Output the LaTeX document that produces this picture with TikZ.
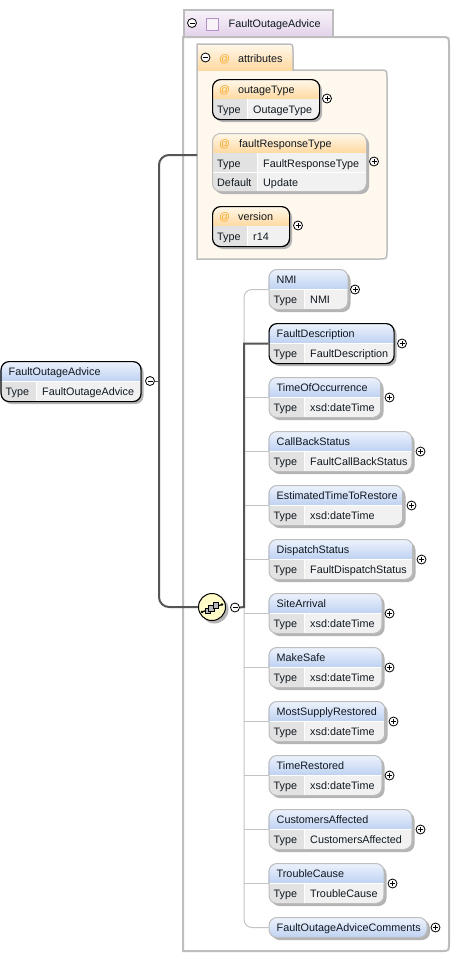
\documentclass[tikz,border=0pt]{standalone}
\usepackage{fontspec}
\setmainfont{Liberation Sans}
\usetikzlibrary{calc}
\definecolor{hdtop}{HTML}{EEF3FC}
\definecolor{hdbot}{HTML}{BFD2F2}
\definecolor{attop}{HTML}{FFF8EC}
\definecolor{atbot}{HTML}{FFD9A0}
\definecolor{grptop}{HTML}{F8F3F9}
\definecolor{grpbot}{HTML}{E2D0EA}
\definecolor{cellk}{HTML}{E2E2E2}
\definecolor{cellv}{HTML}{F1F1F1}
\definecolor{shad}{HTML}{B4B4B4}
\definecolor{frame}{HTML}{BDBDBD}
\definecolor{wirec}{HTML}{C4C4C4}
\definecolor{buscol}{HTML}{555555}
\definecolor{atcol}{HTML}{F5A623}
\definecolor{panel}{HTML}{FFF8EE}
\definecolor{txt}{HTML}{101820}
\definecolor{icpurple}{HTML}{B58FC8}
\tikzset{
  x=1pt,y=-1pt,
  every node/.style={font=\fontsize{10.8}{12}\selectfont,text=txt},
  lbl/.style={anchor=base west,inner sep=0pt},
  elemfr/.style={draw=frame,line width=1pt,rounded corners=8pt,inner sep=0pt,anchor=north west},
  keyfr/.style={draw=black,line width=1.2pt,rounded corners=8pt,inner sep=0pt,anchor=north west},
  btnnode/.style={circle,draw=black,fill=white,line width=0.8pt,minimum size=9pt,inner sep=0pt},
  wire/.style={draw=wirec,line width=1pt},
  buswire/.style={draw=buscol,line width=2pt},
  sh/.style={fill=shad,rounded corners=8pt},
}
% id, x, y, w, col x, title, type, frame style
\newcommand{\elembox}[8]{%
  \fill[sh] (#2+3,#3+3) rectangle (#2+#4+3,#3+43);
  \begin{scope}
    \clip[rounded corners=8pt] (#2,#3) rectangle (#2+#4,#3+40);
    \shade[top color=hdtop,bottom color=hdbot] (#2,#3) rectangle (#2+#4,#3+20);
    \fill[cellk] (#2,#3+20) rectangle (#5,#3+40);
    \fill[cellv] (#5,#3+20) rectangle (#2+#4,#3+40);
    \draw[white,line width=0.8pt] (#5,#3+20) -- (#5,#3+40);
    \draw[white,line width=0.8pt] (#2,#3+20) -- (#2+#4,#3+20);
  \end{scope}
  \node[#8,minimum width=#4pt,minimum height=40pt] (#1) at (#2,#3) {};
  \node[lbl] (#1-t) at (#2+8,#3+14.5) {#6};
  \node[lbl] (#1-k) at (#2+5,#3+34.5) {Type};
  \node[lbl] (#1-v) at (#5+6,#3+34.5) {#7};
}
\newcommand{\attrbox}[8]{%
  \fill[sh] (#2+3,#3+3) rectangle (#2+#4+3,#3+43);
  \begin{scope}
    \clip[rounded corners=8pt] (#2,#3) rectangle (#2+#4,#3+40);
    \shade[top color=attop,bottom color=atbot] (#2,#3) rectangle (#2+#4,#3+20);
    \fill[cellk] (#2,#3+20) rectangle (#5,#3+40);
    \fill[cellv] (#5,#3+20) rectangle (#2+#4,#3+40);
    \draw[white,line width=0.8pt] (#5,#3+20) -- (#5,#3+40);
  \end{scope}
  \node[#8,minimum width=#4pt,minimum height=40pt] (#1) at (#2,#3) {};
  \node[lbl,text=atcol] (#1-a) at (#2+7,#3+14.5) {@};
  \node[lbl] (#1-t) at (#2+26,#3+14.5) {#6};
  \node[lbl] (#1-k) at (#2+5,#3+34.5) {Type};
  \node[lbl] (#1-v) at (#5+6,#3+34.5) {#7};
}
\newcommand{\btn}[4]{%
  \node[btnnode] (#1) at (#2,#3) {};
  \draw[black,line width=0.8pt] ($(#1)+(-2.5,0)$) -- ($(#1)+(2.5,0)$);
  \if#4p\draw[black,line width=0.8pt] ($(#1)+(0,-2.5)$) -- ($(#1)+(0,2.5)$);\fi
}
\begin{document}
\begin{tikzpicture}
\useasboundingbox[fill=white] (0,0) rectangle (451,954);
% group container
\node[draw=frame,line width=2pt,inner sep=0pt,minimum width=149pt,minimum height=28pt,anchor=north west,top color=grptop,bottom color=grpbot] (grouptab) at (183,9) {};
\draw[frame,line width=2pt,fill=white] (183,951) -- (183,37) -- (441,37) .. controls (449,37) and (449,37) .. (449,45) -- (449,943) .. controls (449,951) and (449,951) .. (441,951) -- cycle;
\btn{grpbtn}{192}{23}{m}
\node[draw=icpurple,fill=grptop,line width=1pt,minimum size=12pt,inner sep=0pt] (grpicon) at (212.5,24) {};
\node[lbl] (grptitle) at (228.5,27.5) {FaultOutageAdvice};
% attributes
\draw[frame,line width=1.5pt,fill=panel] (197,70) -- (379,70) .. controls (387,70) and (387,70) .. (387,78) -- (387,251) .. controls (387,259) and (387,259) .. (379,259) -- (197,259) -- cycle;
\draw[frame,line width=1.5pt,top color=attop,bottom color=atbot] (197,70) -- (197,44) -- (286,44) .. controls (293,44) and (293,44) .. (293,51) -- (293,70);
\fill[atbot] (197.8,68.5) rectangle (292.2,70.8);
\btn{atbtn}{205.5}{57.5}{m}
\node[lbl,text=atcol] (ata) at (219,62) {@};
\node[lbl] (atitle) at (238,62) {attributes};
\coordinate (attrin) at (197,155);
\attrbox{outage}{212}{79}{107}{247}{outageType}{OutageType}{keyfr}
\btn{outagebtn}{327}{98.5}{p}
\attrbox{version}{212}{206}{77}{247}{version}{r14}{keyfr}
\btn{versionbtn}{298}{225.5}{p}
% faultResponseType
\fill[sh] (215,136) rectangle (369,194);
\begin{scope}
  \clip[rounded corners=8pt] (212,133) rectangle (366,191);
  \shade[top color=attop,bottom color=atbot] (212,133) rectangle (366,153);
  \fill[cellk] (212,153) rectangle (257,191);
  \fill[cellv] (257,153) rectangle (366,191);
  \draw[white,line width=0.8pt] (257,153) -- (257,191);
  \draw[white,line width=0.8pt] (212,172) -- (366,172);
\end{scope}
\node[elemfr,minimum width=154pt,minimum height=58pt] (frt) at (212,133) {};
\node[lbl,text=atcol] (frt-a) at (219,147.5) {@};
\node[lbl] (frt-t) at (239,147.5) {faultResponseType};
\node[lbl] (frt-k) at (217,167) {Type};
\node[lbl] (frt-v) at (263,167) {FaultResponseType};
\node[lbl] (frt-k2) at (217,186) {Default};
\node[lbl] (frt-v2) at (263,186) {Update};
\btn{frtbtn}{374}{161.5}{p}
% root
\elembox{root}{0.5}{361}{140}{36}{FaultOutageAdvice}{FaultOutageAdvice}{keyfr}
\btn{rootbtn}{150}{381}{m}
% compositor
\fill[shad] (214.5,609.5) circle (14);
\node[circle,draw=black,line width=1pt,fill=yellow!22,minimum size=27pt,inner sep=0pt] (cmp) at (212,607) {};
\btn{cmpbtn}{235}{607.5}{m}
\coordinate (bus) at (159,381);
\coordinate (trunk) at (244,607);
% compositor icon
\draw[black,line width=1.2pt] (202,612) -- (222,604.5);
\fill[black] (202,612) circle (1.3) (222,604.5) circle (1.3);
\foreach \ix/\iy in {205/608,208.5/605.5,213/602.5}{\draw[black,fill=gray!55,line width=.8pt] (\ix,\iy) rectangle ++(5.5,5.5);}
% wires
\draw[buswire,rounded corners=10pt] (attrin) -- (bus |- attrin) -- (bus |- cmp) -- (cmp.west);
\draw[buscol,line width=1pt] (rootbtn.east) -- (bus);
% children
\elembox{nmi}{268.5}{269}{79}{304}{NMI}{NMI}{elemfr}
\btn{nmib}{355}{289.5}{p}
\elembox{fd}{268.5}{323}{125}{304}{FaultDescription}{FaultDescription}{keyfr}
\btn{fdb}{402}{343.5}{p}
\elembox{too}{268.5}{377}{112}{304}{TimeOfOccurrence}{xsd:dateTime}{elemfr}
\btn{toob}{389.5}{397.5}{p}
\elembox{cbs}{268.5}{431}{143}{304}{CallBackStatus}{FaultCallBackStatus}{elemfr}
\btn{cbsb}{420.5}{451.5}{p}
\elembox{etr}{268.5}{485}{134}{304}{EstimatedTimeToRestore}{xsd:dateTime}{elemfr}
\btn{etrb}{411.5}{505.5}{p}
\elembox{ds}{268.5}{539}{144}{304}{DispatchStatus}{FaultDispatchStatus}{elemfr}
\btn{dsb}{421.5}{559.5}{p}
\elembox{sa}{268.5}{593}{113}{304}{SiteArrival}{xsd:dateTime}{elemfr}
\btn{sab}{389.5}{613.5}{p}
\elembox{ms}{268.5}{647}{113}{304}{MakeSafe}{xsd:dateTime}{elemfr}
\btn{msb}{389.5}{667.5}{p}
\elembox{msr}{268.5}{701}{116}{304}{MostSupplyRestored}{xsd:dateTime}{elemfr}
\btn{msrb}{393.5}{721.5}{p}
\elembox{tr}{268.5}{755}{113}{304}{TimeRestored}{xsd:dateTime}{elemfr}
\btn{trb}{389.5}{775.5}{p}
\elembox{ca}{268.5}{809}{143}{304}{CustomersAffected}{CustomersAffected}{elemfr}
\btn{cab}{420.5}{829.5}{p}
\elembox{tc}{268.5}{863}{115}{304}{TroubleCause}{TroubleCause}{elemfr}
\btn{tcb}{392.5}{883.5}{p}
% comments
\fill[sh] (271.5,920) rectangle (430,940);
\node[elemfr,minimum width=158pt,minimum height=20pt,top color=hdtop,bottom color=hdbot] (cmt) at (268.5,917) {};
\node[lbl] (cmt-t) at (276.5,931.5) {FaultOutageAdviceComments};
\btn{cmtb}{435.5}{927.5}{p}
% thin trunk
\draw[wire,rounded corners=8pt] (nmi.west) -- (trunk |- nmi.west) -- (trunk |- cmt.west) -- (cmt.west);
\foreach \n in {too,cbs,etr,ds,sa,ms,msr,tr,ca,tc}{\draw[wire] (trunk |- \n.west) -- (\n.west);}
\draw[buswire] (cmpbtn.east) -- (trunk) -- (trunk |- fd.west) -- (fd.west);
\end{tikzpicture}
\end{document}
